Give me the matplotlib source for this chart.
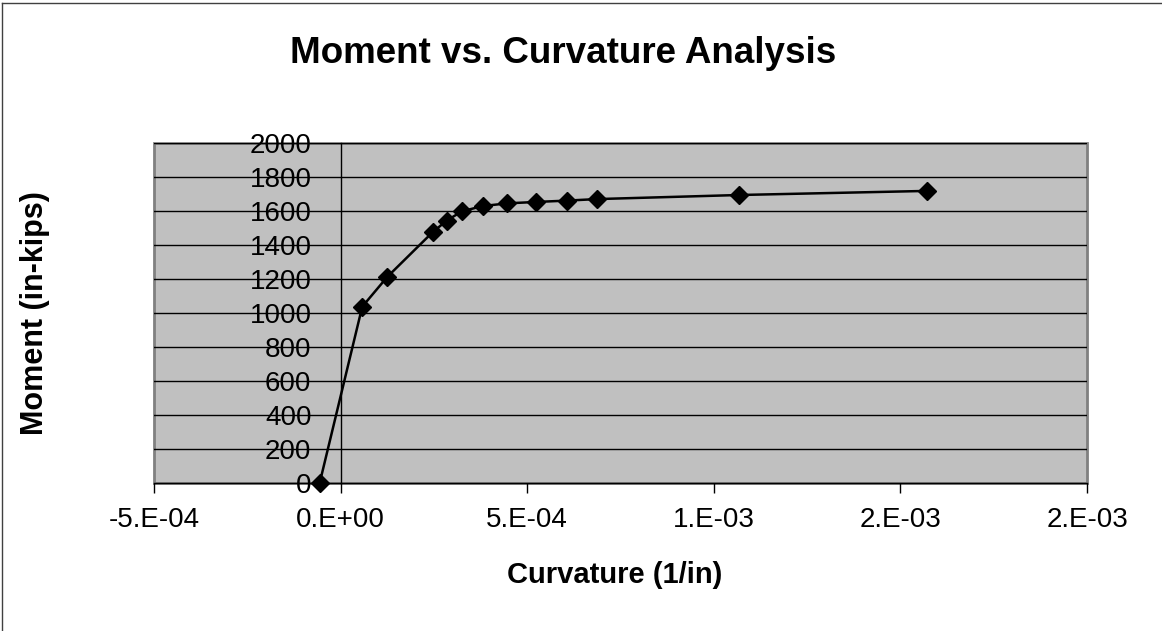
import matplotlib.pyplot as plt
from matplotlib.patches import Rectangle
from matplotlib.lines import Line2D

# values
curvature = [-5.6e-5, 5.8e-5, 1.25e-4, 2.47e-4, 2.84e-4, 3.25e-4, 3.81e-4,
             4.47e-4, 5.23e-4, 6.06e-4, 6.87e-4, 1.068e-3, 1.570e-3]
moment = [0, 1037, 1212, 1476, 1543, 1598, 1629, 1645, 1653, 1661, 1670, 1694, 1718]

x_ticks = [-5e-4, 0, 5e-4, 1e-3, 1.5e-3, 2e-3]
x_tick_labels = ["-5.E-04", "0.E+00", "5.E-04", "1.E-03", "2.E-03", "2.E-03"]
y_ticks = list(range(0, 2001, 200))

plt.rcParams['font.family'] = ['Liberation Sans', 'DejaVu Sans']

fig = plt.figure(figsize=(11.62, 6.31), dpi=100)
ax = fig.add_axes([0.1325, 0.2346, 0.8030, 0.5388])
ax.set_facecolor('#C0C0C0')

ax.set_xlim(-5e-4, 2e-3)
ax.set_ylim(0, 2000)

for y in y_ticks[1:]:
    ax.axhline(y, color='black', lw=1, zorder=1)

ax.plot(curvature, moment, color='black', lw=1.8, marker='D', markersize=9,
        zorder=3, clip_on=False)

# axes: y axis crosses at x = 0
ax.spines['left'].set_position(('data', 0))
ax.spines['left'].set_color('black')
ax.spines['left'].set_linewidth(1)
ax.spines['bottom'].set_color('black')
ax.spines['bottom'].set_linewidth(1)
ax.spines['top'].set_visible(False)
ax.spines['right'].set_visible(False)
ax.add_patch(Rectangle((0, 0), 1, 1, transform=ax.transAxes, fill=False,
                       edgecolor='#808080', lw=2, zorder=0.5, clip_on=False))

ax.set_xticks(x_ticks)
ax.set_xticklabels(x_tick_labels, fontsize=20)
ax.set_yticks(y_ticks)
ax.set_yticklabels([str(v) for v in y_ticks], fontsize=20)
ax.tick_params(axis='x', direction='out', length=7, width=1, pad=10)
ax.tick_params(axis='y', length=0, pad=21)

fig.text(0.485, 0.916, "Moment vs. Curvature Analysis", fontsize=26.5,
         fontweight='bold', ha='center', va='center')
fig.text(0.529, 0.089, "Curvature (1/in)", fontsize=21, fontweight='bold',
         ha='center', va='center')
fig.text(0.030, 0.504, "Moment (in-kips)", fontsize=22, fontweight='bold',
         ha='center', va='center', rotation=90)

# outer chart border (top and left visible in the reference)
fig.add_artist(Line2D([0.002, 0.002], [0, 0.995], transform=fig.transFigure,
                      color='#404040', lw=1))
fig.add_artist(Line2D([0.002, 1], [0.995, 0.995], transform=fig.transFigure,
                      color='#404040', lw=1))

fig.savefig('out.png', dpi=100)
